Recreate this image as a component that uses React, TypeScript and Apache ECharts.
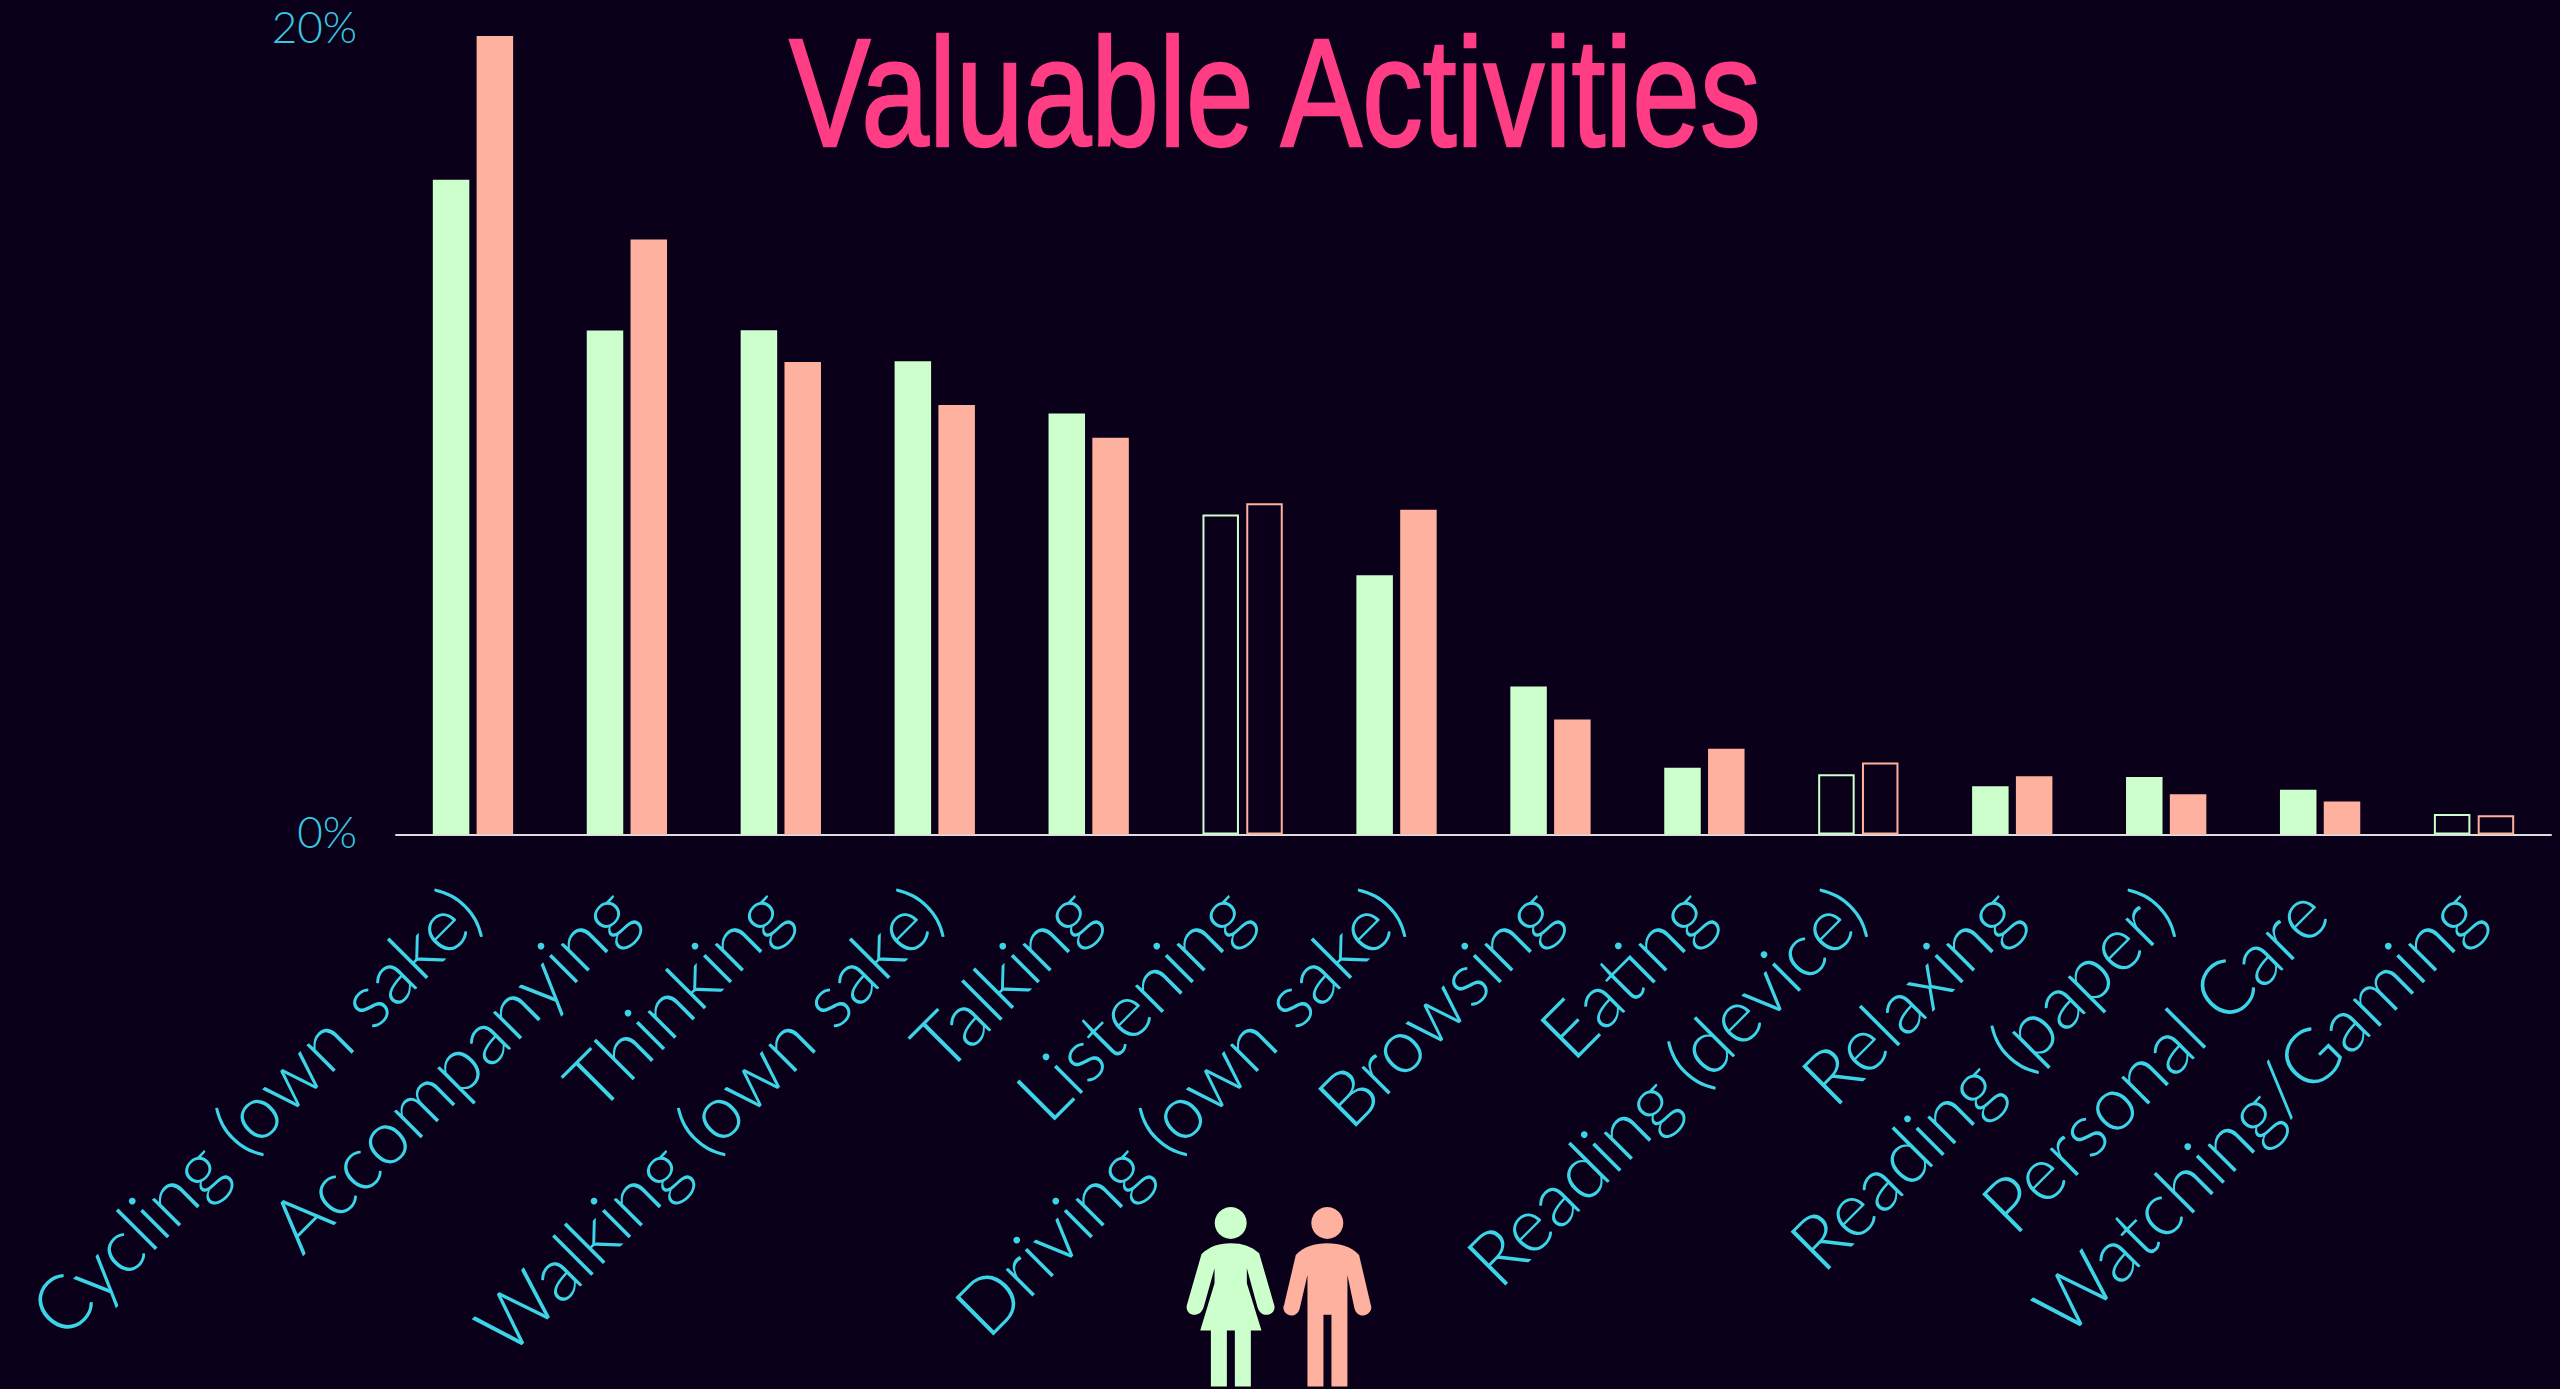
import React, { useEffect, useRef } from "react";
import * as echarts from "echarts";

const categories = ["Cycling (own sake)", "Accompanying", "Thinking", "Walking (own sake)", "Talking", "Listening", "Driving (own sake)", "Browsing", "Eating", "Reading (device)", "Relaxing", "Reading (paper)", "Personal Care", "Watching/Gaming"];
const women = [16.27, 12.52, 12.53, 11.76, 10.46, 7.95, 6.44, 3.68, 1.66, 1.50, 1.20, 1.43, 1.11, 0.51];
const men = [19.84, 14.78, 11.74, 10.67, 9.86, 8.23, 8.07, 2.86, 2.13, 1.79, 1.45, 1.00, 0.82, 0.48];
const hollow = ["Listening", "Reading (device)", "Watching/Gaming"];
const yTicks = [0, 20];
const titleText = "Valuable Activities";

const BG = "#0a001a";
const GREEN = "#ccffcc";
const SALMON = "#feb19e";
const CYAN = "#3cd4e6";
const PINK = "#ff3d85";

const womanPath = "M392 280 C430 280 455 290 478 310 L522 462 C530 480 515 495 500 495 C488 495 478 488 473 472 L441 355 L441 400 L485 542 L453 542 L453 710 L405 710 L405 542 L381 542 L381 710 L333 710 L333 542 L301 542 L344 400 L344 355 L312 470 C307 488 295 495 283 495 C268 495 255 480 262 462 L305 312 C330 290 355 280 392 280 Z";
const manPath = "M682 280 C720 280 755 290 778 315 L813 465 C820 480 805 497 790 497 C778 497 768 490 764 475 L743 375 L743 710 L695 710 L695 495 L671 495 L671 710 L623 710 L623 375 L600 475 C596 490 586 497 574 497 C560 497 545 480 553 465 L588 315 C612 290 645 280 682 280 Z";
echarts.graphic.registerShape("womanFigure", echarts.graphic.extendPath(womanPath as any, {} as any) as any);
echarts.graphic.registerShape("manFigure", echarts.graphic.extendPath(manPath as any, {} as any) as any);

function barData(values: number[], color: string) {
  return values.map((v, i) =>
    hollow.includes(categories[i])
      ? { value: v, itemStyle: { color: BG, borderColor: color, borderWidth: 2 } }
      : { value: v, itemStyle: { color } }
  );
}

export default function App() {
  const ref = useRef<HTMLDivElement>(null);
  useEffect(() => {
    document.body.style.margin = "0";
    document.body.style.overflow = "hidden";
    const chart = echarts.init(ref.current!, null, { renderer: "svg" });
    chart.setOption({
      animation: false,
      backgroundColor: BG,
      grid: { left: 396, right: 9, top: 29.5, height: 805, containLabel: false },
      xAxis: {
        type: "category",
        data: categories,
        axisLine: { show: true, lineStyle: { color: "#dddddd", width: 2 } },
        axisTick: { show: false },
        axisLabel: { rotate: 45, interval: 0, margin: 56, padding: [0, 11, 0, 0], color: CYAN, fontFamily: "Lato", fontWeight: 300, fontSize: 76 },
      },
      yAxis: {
        type: "value",
        min: yTicks[0],
        max: yTicks[1],
        interval: 20,
        axisLine: { show: false },
        axisTick: { show: false },
        splitLine: { show: false },
        axisLabel: { color: "#38c8e0", fontFamily: "Lato", fontWeight: 300, fontSize: 44, margin: 39, formatter: "{value}%", verticalAlign: "bottom", lineHeight: 7 },
      },
      series: [
        { type: "bar", data: barData(women, GREEN), barWidth: 36.5, barGap: "20%" },
        { type: "bar", data: barData(men, SALMON), barWidth: 36.5, barGap: "20%" },
      ],
      graphic: [
        { type: "text", x: 1275, y: 92, scaleX: 0.79, z: 10, style: { text: titleText, fill: PINK, stroke: PINK, lineWidth: 2.5, font: "154px 'Liberation Sans'", textAlign: "center", textVerticalAlign: "middle" } },
        { type: "womanFigure", x: 1100, y: 1150, scaleX: 1 / 3, scaleY: 1 / 3, style: { fill: GREEN } },
        { type: "manFigure", x: 1100, y: 1150, scaleX: 1 / 3, scaleY: 1 / 3, style: { fill: SALMON } },
        { type: "circle", shape: { cx: 1230.7, cy: 1223, r: 16 }, style: { fill: GREEN } },
        { type: "circle", shape: { cx: 1327.3, cy: 1223, r: 16 }, style: { fill: SALMON } },
      ],
    });
    return () => chart.dispose();
  }, []);
  return <div ref={ref} style={{ position: "absolute", left: 0, top: 0, width: 2560, height: 1389 }} />;
}
